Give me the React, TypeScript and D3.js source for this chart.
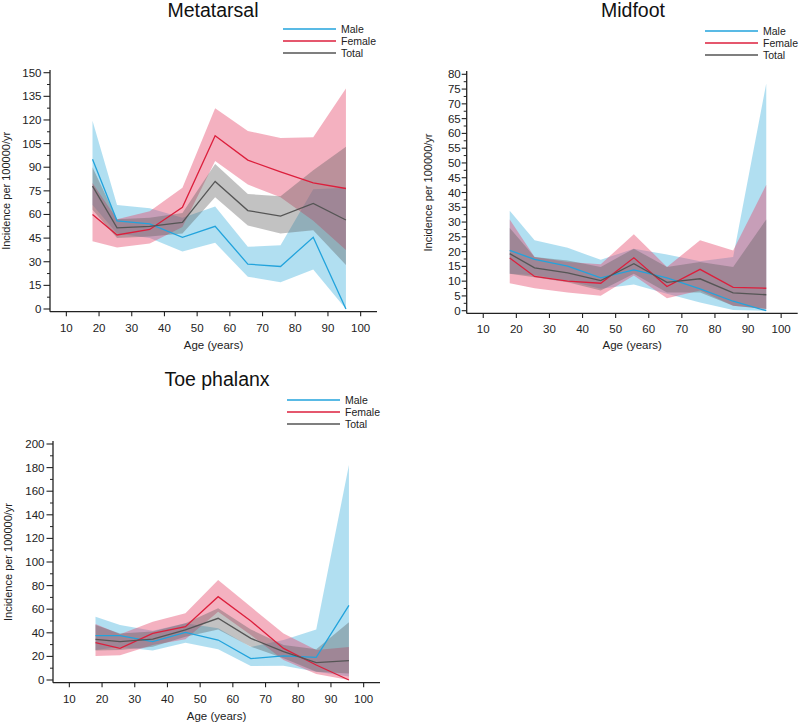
import React from "react";
import * as d3 from "d3";

const ages = [18, 25.5, 35.5, 45.5, 55.5, 65.5, 75.5, 85.5, 95.5];
const xTicks = [10, 20, 30, 40, 50, 60, 70, 80, 90, 100];
const seriesNames = ["Male", "Female", "Total"];

// Metatarsal
const metaMale = [95, 56, 54, 45.5, 52.5, 28.5, 27, 45.5, 0];
const metaMaleLo = [66, 48, 45, 36.5, 42, 20.5, 17, 25, 0];
const metaMaleHi = [119.5, 66, 64, 58, 65, 39.5, 40.5, 76, 77];
const metaFemale = [60, 47, 50.5, 64.5, 110, 94.5, 87, 80, 76.5];
const metaFemaleLo = [43, 39, 41.5, 52, 94, 79, 71, 56, 37.5];
const metaFemaleHi = [80, 57, 62, 77, 127.5, 113, 108.5, 109, 140];
const metaTotal = [78, 51.5, 52.5, 55, 81, 62.5, 59, 67, 56.5];
const metaTotalLo = [63, 45, 46, 48, 71, 53, 48, 50, 28];
const metaTotalHi = [90, 57, 58, 61, 92, 73, 71.5, 88, 103];
const metaYTicks = [0, 15, 30, 45, 60, 75, 90, 105, 120, 135, 150];

// Midfoot
const midMale = [20.4, 17.4, 15.1, 11.1, 13.8, 11.1, 7.4, 3.2, 0];
const midMaleLo = [12.5, 12, 10.2, 7.4, 8.9, 5.7, 2.8, 0.2, 0];
const midMaleHi = [33.8, 23.8, 21.3, 17.2, 21, 19, 16.7, 18.2, 76.9];
const midFemale = [17.8, 11.6, 10, 9.3, 17.9, 8.2, 14, 7.9, 7.6];
const midFemaleLo = [9.3, 7.6, 6.2, 5.1, 11.9, 4.2, 6.8, 1.7, 0.6];
const midFemaleHi = [30.9, 18.2, 16.5, 15.7, 25.9, 14.8, 23.8, 20.4, 42.6];
const midTotal = [19.3, 14.5, 12.8, 10.2, 15.9, 9.6, 10.8, 6.0, 5.4];
const midTotalLo = [12.5, 11.3, 9.6, 6.8, 12.5, 6.2, 6.2, 1.7, 0.6];
const midTotalHi = [28, 18.2, 17, 14.8, 21, 14.8, 16.5, 14.8, 30.9];
const midYTicks = [0, 5, 10, 15, 20, 25, 30, 35, 40, 45, 50, 55, 60, 65, 70, 75, 80];

// Toe phalanx
const toeMale = [37.6, 37.6, 32.5, 40.4, 33.9, 18.1, 20.5, 19.2, 63.3];
const toeMaleLo = [25.4, 28, 24.9, 31.6, 26, 11.9, 12.1, 7, 3];
const toeMaleHi = [53.7, 46.6, 41.8, 48, 43.8, 28, 33.9, 42.9, 182.2];
const toeFemale = [31.6, 26.8, 39.5, 45.2, 70.6, 50, 26.8, 12.7, 0];
const toeFemaleLo = [20.3, 20.9, 29.7, 34.5, 57.9, 38.1, 17, 5.1, 0];
const toeFemaleHi = [47.5, 38.7, 49.4, 56.5, 84.7, 62, 39.5, 25.4, 28];
const toeTotal = [34.5, 32.5, 34.7, 42.4, 52.3, 35.3, 24, 14.7, 16.4];
const toeTotalLo = [24.9, 25.4, 28.2, 36.7, 42.9, 28.2, 18.4, 7, 5.6];
const toeTotalHi = [46.6, 39.5, 41, 48, 60.7, 42.9, 29.7, 26, 48.9];
const toeYTicks = [0, 20, 40, 60, 80, 100, 120, 140, 160, 180, 200];

const lineColors = ["#22a3dc", "#dc1f3c", "#555555"];
const bandColors = [
  "rgba(70,178,222,0.42)",
  "rgba(228,70,105,0.42)",
  "rgba(95,95,95,0.38)",
];

const FONT = "'Liberation Sans', Arial, Helvetica, sans-serif";

type PanelProps = {
  title: string;
  titleX: number;
  titleY: number;
  x0: number;
  x1: number;
  y0: number;
  yTop: number;
  yMax: number;
  yTicks: number[];
  axisTop: number;
  legendX: number;
  legendY: number;
  yLabelX: number;
  ageY: number;
  lines: number[][];
  los: number[][];
  his: number[][];
  labelOff: number;
  tickLen: number;
};

function Panel(p: PanelProps) {
  const x = d3.scaleLinear().domain([5, 105]).range([p.x0, p.x1]);
  const y = d3.scaleLinear().domain([0, p.yMax]).range([p.y0, p.yTop]);
  const axisY = p.y0 + 2.7;
  const step = p.yTicks[1] - p.yTicks[0];
  const minor = p.yTicks.slice(0, -1).map((t) => t + step / 2);
  const band = (lo: number[], hi: number[]) =>
    d3
      .area<number>()
      .x((_, i) => x(ages[i]))
      .y0((_, i) => y(lo[i]))
      .y1((_, i) => y(hi[i]))(ages) || "";
  const line = d3
    .line<number>()
    .x((_, i) => x(ages[i]))
    .y((d) => y(d));
  const midX = (p.x0 + p.x1) / 2;
  return (
    <g fontFamily={FONT}>
      <text x={p.titleX} y={p.titleY} fontSize={19.5} textAnchor="middle" fill="#111">
        {p.title}
      </text>
      {seriesNames.map((n, i) => (
        <g key={n}>
          <line
            x1={p.legendX}
            x2={p.legendX + 53}
            y1={p.legendY + i * 12}
            y2={p.legendY + i * 12}
            stroke={lineColors[i]}
            strokeWidth={1.6}
          />
          <text x={p.legendX + 58} y={p.legendY + i * 12 + 3.8} fontSize={10.5} fill="#222">
            {n}
          </text>
        </g>
      ))}
      {[0, 1, 2].map((i) => (
        <path key={"b" + i} d={band(p.los[i], p.his[i])} fill={bandColors[i]} />
      ))}
      {[0, 1, 2].map((i) => (
        <path
          key={"l" + i}
          d={line(p.lines[i]) || ""}
          fill="none"
          stroke={lineColors[i]}
          strokeWidth={1.3}
        />
      ))}
      <line x1={p.x0} x2={p.x0} y1={p.axisTop} y2={axisY} stroke="#222" strokeWidth={1.3} />
      {p.yTicks.map((t) => (
        <g key={"yt" + t}>
          <line x1={p.x0 - p.tickLen} x2={p.x0} y1={y(t)} y2={y(t)} stroke="#222" strokeWidth={1.1} />
          <text
            x={p.x0 - p.labelOff}
            y={y(t) + 4}
            fontSize={11.5}
            textAnchor="end"
            fill="#222"
          >
            {t}
          </text>
        </g>
      ))}
      {minor.map((t) => (
        <line key={"ym" + t} x1={p.x0 - 3} x2={p.x0} y1={y(t)} y2={y(t)} stroke="#222" strokeWidth={1} />
      ))}
      <line x1={p.x0} x2={p.x1} y1={axisY} y2={axisY} stroke="#222" strokeWidth={1.3} />
      {xTicks.map((t) => (
        <g key={"xt" + t}>
          <line x1={x(t)} x2={x(t)} y1={axisY} y2={axisY + 4.5} stroke="#222" strokeWidth={1.1} />
          <text x={x(t)} y={axisY + 19.8} fontSize={11.5} textAnchor="middle" fill="#222">
            {t}
          </text>
        </g>
      ))}
      <text
        transform={`translate(${p.yLabelX},${(p.y0 + p.yTop) / 2}) rotate(-90)`}
        fontSize={11}
        textAnchor="middle"
        fill="#222"
      >
        Incidence per 100000/yr
      </text>
      <text x={midX} y={p.ageY} fontSize={11.5} textAnchor="middle" fill="#222">
        Age (years)
      </text>
    </g>
  );
}

export default function App() {
  return (
    <svg width={800} height={723} style={{ position: "absolute", left: 0, top: 0, background: "#fff" }}>
      <Panel
        title="Metatarsal"
        titleX={213}
        titleY={17}
        x0={50}
        x1={377}
        y0={309}
        yTop={72.7}
        yMax={150}
        yTicks={metaYTicks}
        axisTop={70}
        legendX={283}
        legendY={29}
        yLabelX={10}
        ageY={349}
        lines={[metaMale, metaFemale, metaTotal]}
        los={[metaMaleLo, metaFemaleLo, metaTotalLo]}
        his={[metaMaleHi, metaFemaleHi, metaTotalHi]}
        labelOff={8.5}
        tickLen={6.5}
      />
      <Panel
        title="Midfoot"
        titleX={633}
        titleY={17}
        x0={466.7}
        x1={797.7}
        y0={310.7}
        yTop={74.3}
        yMax={80}
        yTicks={midYTicks}
        axisTop={71}
        legendX={705}
        legendY={31}
        yLabelX={431.5}
        ageY={349}
        lines={[midMale, midFemale, midTotal]}
        los={[midMaleLo, midFemaleLo, midTotalLo]}
        his={[midMaleHi, midFemaleHi, midTotalHi]}
        labelOff={6}
        tickLen={5}
      />
      <Panel
        title="Toe phalanx"
        titleX={217}
        titleY={386}
        x0={53}
        x1={380}
        y0={680}
        yTop={444}
        yMax={200}
        yTicks={toeYTicks}
        axisTop={441}
        legendX={287}
        legendY={400}
        yLabelX={11.5}
        ageY={720}
        lines={[toeMale, toeFemale, toeTotal]}
        los={[toeMaleLo, toeFemaleLo, toeTotalLo]}
        his={[toeMaleHi, toeFemaleHi, toeTotalHi]}
        labelOff={8.5}
        tickLen={6.5}
      />
    </svg>
  );
}
